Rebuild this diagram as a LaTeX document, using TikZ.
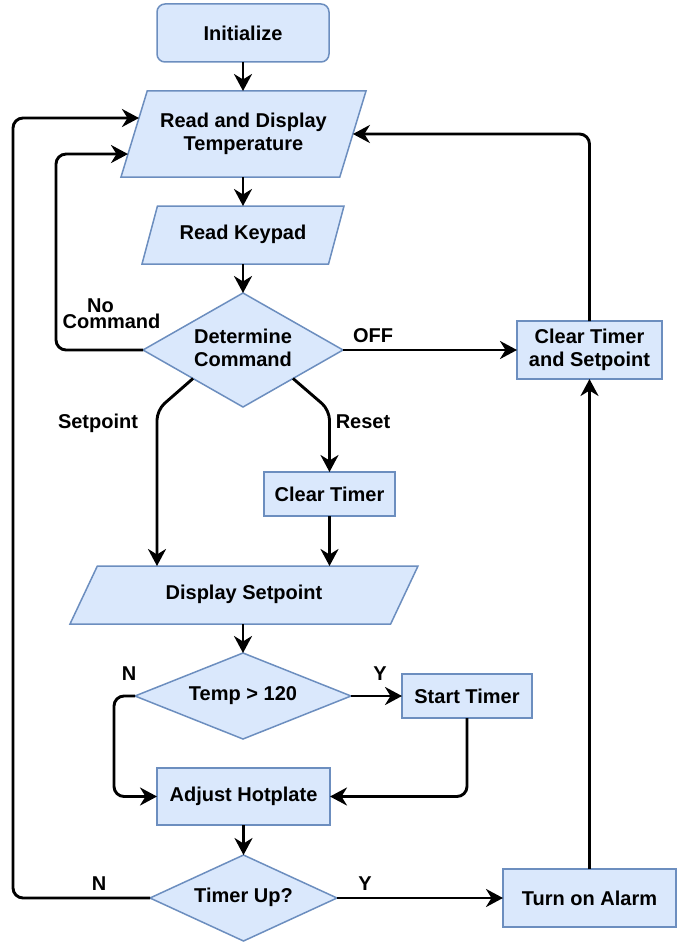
\documentclass[tikz,border=0pt]{standalone}
\usepackage{fontspec}
\setmainfont{Liberation Sans}
\usetikzlibrary{shapes.geometric,arrows.meta,calc}
\definecolor{boxfill}{HTML}{DAE8FC}
\definecolor{boxline}{HTML}{6C8EBF}
\newcommand{\zt}[1]{\makebox[0pt]{\begin{tabular}{@{}c@{}}#1\end{tabular}}}
\begin{document}
\begin{tikzpicture}[x=1pt,y=-1pt,
  font=\fontsize{20}{23}\selectfont\bfseries,
  box/.style={draw=boxline,fill=boxfill,line width=1.5pt,inner sep=0pt,outer sep=0pt},
  rbox/.style={box,rectangle,align=center},
  io/.style 2 args={box,trapezium,trapezium stretches body,trapezium left angle=#1,trapezium right angle=#2},
  dec/.style={box,diamond},
  arr/.style={line width=2.9pt,-{Stealth[length=17pt,width=18pt,inset=5.5pt]},rounded corners=10pt},
  lbl/.style={inner sep=0pt,text height=14.3pt,text depth=0pt}]
\useasboundingbox (0,0) rectangle (686,947);
\fill[white] (0,0) rectangle (686,947);
% nodes
\node[rbox,rounded corners=8pt,minimum width=172pt,minimum height=58pt] (init) at (243,33) {Initialize};
\node[io={60.33}{119.67},minimum width=245pt,minimum height=86pt] (rdt) at (243.5,134) {\zt{Read and Display\\Temperature}};
\node[io={56.08}{123.92},minimum width=202pt,minimum height=58pt] (rk) at (243,235) {\zt{Read Keypad}};
\node[dec,minimum width=200pt,minimum height=114pt] (dc) at (243,350) {\zt{Determine\\Command}};
\node[rbox,minimum width=145pt,minimum height=58pt] (cts) at (589.5,350) {Clear Timer\\and Setpoint};
\node[rbox,minimum width=131pt,minimum height=44pt] (ct) at (329.5,494) {Clear Timer};
\node[io={40.05}{139.95},minimum width=348pt,minimum height=58pt] (ds) at (244,595) {\zt{Display Setpoint}};
\node[dec,minimum width=216pt,minimum height=86pt] (tmp) at (243,696) {\zt{Temp > 120}};
\node[rbox,minimum width=130pt,minimum height=44pt] (st) at (467,696) {Start Timer};
\node[rbox,minimum width=173pt,minimum height=57pt] (ah) at (243.5,796.5) {Adjust Hotplate};
\node[dec,minimum width=187pt,minimum height=86pt] (tu) at (243.5,898) {\zt{Timer Up?}};
\node[rbox,minimum width=173pt,minimum height=58pt] (alarm) at (589.5,898) {Turn on Alarm};
% helper coordinates
\coordinate (lx1) at (56,0);
\coordinate (lx2) at (13,0);
\coordinate (lx3) at (114,0);
\coordinate (spk) at (157,410);
\coordinate (rsk) at (329.5,410);
\coordinate (nc) at ($(rdt.bottom left corner)!0.267!(rdt.top left corner)$);
\coordinate (ol) at ($(rdt.bottom left corner)!0.686!(rdt.top left corner)$);
% connectors
\draw[arr] (init.south) -- (init.south |- rdt.top side);
\draw[arr] (rk.center |- rdt.bottom side) -- (rk.center |- rk.top side);
\draw[arr] (rk.center |- rk.bottom side) -- (dc.north);
\draw[arr] (dc.east) -- (cts.west);
\draw[arr] (cts.north) |- (rdt.right side);
\draw[arr] (dc.west) -- (dc.west -| lx1) |- (nc);
\draw[arr] (tu.west) -- (tu.west -| lx2) |- (ol);
\draw[arr] ($(dc.west)!0.5!(dc.south)$) -- (spk) -- (spk |- ds.top side);
\draw[arr] ($(dc.east)!0.5!(dc.south)$) -- (rsk) -- (ct.north);
\draw[arr] (ct.south) -- (ct.south |- ds.top side);
\draw[arr] (tmp.north |- ds.bottom side) -- (tmp.north);
\draw[arr] (tmp.east) -- (st.west);
\draw[arr] (tmp.west) -- (tmp.west -| lx3) |- (ah.west);
\draw[arr] (st.south) |- (ah.east);
\draw[arr] (ah.south) -- (tu.north);
\draw[arr] (tu.east) -- (alarm.west);
\draw[arr] (alarm.north) -- (cts.south);
% labels
\node[inner sep=0pt,align=center,font=\fontsize{20}{14.5}\selectfont\bfseries] (lnc) at (111.5,314) {No\hspace*{22pt}\\Command};
\node[lbl] (loff) at (373,335) {OFF};
\node[lbl] (lsp) at (98,421) {Setpoint};
\node[lbl] (lrs) at (363,421) {Reset};
\node[lbl] (ln1) at (129,673) {N};
\node[lbl] (ly1) at (380,673) {Y};
\node[lbl] (ln2) at (99,883) {N};
\node[lbl] (ly2) at (365,883) {Y};
\end{tikzpicture}
\end{document}
